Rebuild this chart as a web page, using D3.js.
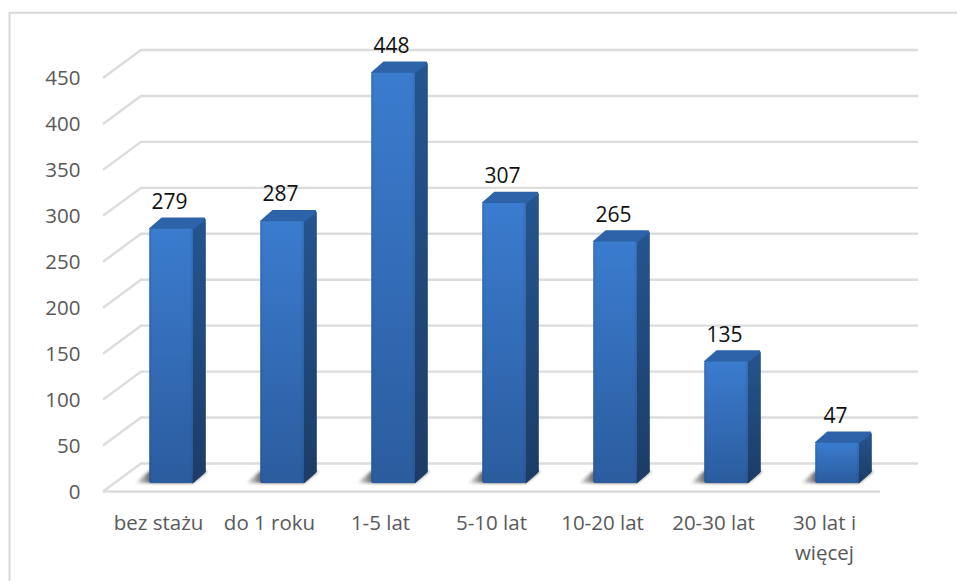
<!DOCTYPE html>
<html><head><meta charset="utf-8">
<script src="https://cdn.jsdelivr.net/npm/d3@7"></script>
<style>html,body{margin:0;background:#fff;overflow:hidden}svg{display:block}text{font-family:"Open Sans",sans-serif}</style>
</head><body><div id="c"></div>
<script>
const categories=["bez stażu","do 1 roku","1-5 lat","5-10 lat","10-20 lat","20-30 lat","30 lat i|więcej"];
const values=[279,287,448,307,265,135,47];
const ticks=[0,50,100,150,200,250,300,350,400,450];
const W=957,H=581;
const svg=d3.select("#c").append("svg").attr("width",W).attr("height",H);
const defs=svg.append("defs");
const gf=defs.append("linearGradient").attr("id","front").attr("x1",0).attr("y1",0).attr("x2",0).attr("y2",1);
gf.append("stop").attr("offset",0).attr("stop-color","#3b7ccf");
gf.append("stop").attr("offset",1).attr("stop-color","#2b5c9e");
const gh=defs.append("linearGradient").attr("id","frontH");
gh.append("stop").attr("offset",0).attr("stop-color","#1f4a80").attr("stop-opacity",.3);
gh.append("stop").attr("offset",.07).attr("stop-color","#1f4a80").attr("stop-opacity",0);
gh.append("stop").attr("offset",.93).attr("stop-color","#1f4a80").attr("stop-opacity",0);
gh.append("stop").attr("offset",1).attr("stop-color","#1f4a80").attr("stop-opacity",.3);
const gs=defs.append("linearGradient").attr("id","side").attr("x1",0).attr("y1",0).attr("x2",0).attr("y2",1);
gs.append("stop").attr("offset",0).attr("stop-color","#25558f");
gs.append("stop").attr("offset",1).attr("stop-color","#1c3c66");
const gsh=defs.append("linearGradient").attr("id","shadow");
gsh.append("stop").attr("offset",0).attr("stop-color","#222").attr("stop-opacity",.05);
gsh.append("stop").attr("offset",.2).attr("stop-color","#222").attr("stop-opacity",.8);
gsh.append("stop").attr("offset",.8).attr("stop-color","#222").attr("stop-opacity",.8);
gsh.append("stop").attr("offset",1).attr("stop-color","#222").attr("stop-opacity",.05);
defs.append("filter").attr("id","blur").attr("x","-20%").attr("y","-60%").attr("width","140%").attr("height","220%")
 .append("feGaussianBlur").attr("stdDeviation",1.6);

// frame: only the top and left edges are inside the picture
const frame=svg.append("g").attr("stroke","#d9d9d9").attr("fill","none");
frame.append("path").attr("stroke-width",2).attr("d",d3.line()([[9.5,H],[9.5,12.8],[W,12.8]]));

const dx=38,dy=-28;                // floor depth
const y=d3.scaleLinear().domain([0,450]).range([491.5,78]);
const x=d3.scaleBand().domain(categories).range([103,880]);
const barY=d3.scaleLinear().domain([0,450]).range([486,71]);
const barFloor=483;
const bx=d3.scaleBand().domain(categories).range([115.5,892.5]);
const bw=43.5, bdx=12.5, bdy=-11;

// gridlines
const grid=svg.append("g").attr("fill","none").attr("stroke","#dcdcdc").attr("stroke-width",2.4);
ticks.forEach(t=>{
  grid.append("path").attr("d",d3.line()([[x.range()[0],y(t)],[x.range()[0]+dx,y(t)+dy],[x.range()[1]+dx,y(t)+dy]]));
});
grid.append("line").attr("x1",x.range()[0]).attr("x2",x.range()[1]).attr("y1",y(0)).attr("y2",y(0));

// tick labels
svg.append("g").selectAll("text").data(ticks).join("text")
 .attr("x",80.5).attr("y",d=>y(d)).attr("dy","0.36em").attr("text-anchor","end")
 .attr("font-size",20.5).attr("fill","#595959").text(d=>d);

// bars
const bars=svg.append("g").selectAll("g").data(categories.map((c,i)=>({c,v:values[i]}))).join("g");
const cx=d=>bx(d.c)+bx.bandwidth()/2;
bars.append("path").attr("filter","url(#blur)").attr("fill","url(#shadow)")
 .attr("d",d=>{const l=cx(d)-bw/2,r=l+bw;return d3.line()([[l-14,barFloor],[r,barFloor],[r+bdx+2,barFloor+bdy-1],[r+bdx+18,barFloor+bdy-1],[r,barFloor-12],[l,barFloor-12]])+"Z";});
bars.append("path").attr("fill","url(#side)").attr("stroke","url(#side)").attr("stroke-linejoin","round")
 .attr("d",d=>{const r=cx(d)+bw/2,t=barY(d.v);return d3.line()([[r,t],[r+bdx-1,t+bdy],[r+bdx,t+bdy+2],[r+bdx,barFloor+bdy],[r,barFloor]])+"Z";});
bars.append("path").attr("fill","#2c63a9").attr("stroke","#2c63a9").attr("stroke-width",1.5).attr("stroke-linejoin","round")
 .attr("d",d=>{const l=cx(d)-bw/2,r=l+bw,t=barY(d.v);return d3.line()([[l+.5,t],[l+bdx,t+bdy+.5],[r+bdx-2,t+bdy+.5],[r+bdx-1,t+bdy+2],[r,t]])+"Z";});
bars.append("rect").attr("fill","url(#front)").attr("x",d=>cx(d)-bw/2).attr("width",bw)
 .attr("y",d=>barY(d.v)).attr("height",d=>barFloor-barY(d.v)).attr("rx",2);
bars.append("rect").attr("fill","url(#frontH)").attr("x",d=>cx(d)-bw/2).attr("width",bw)
 .attr("y",d=>barY(d.v)).attr("height",d=>barFloor-barY(d.v)).attr("rx",2);

// value labels
bars.append("text").attr("x",d=>cx(d)-1.5).attr("y",d=>barY(d.v)-20).attr("text-anchor","middle")
 .attr("font-size",21).attr("fill","#111").text(d=>d.v);

// category labels
svg.append("g").selectAll("text").data(categories).join("text")
 .attr("font-size",20.5).attr("fill","#595959").attr("text-anchor","middle")
 .each(function(c){
   const lines=c.split("|");
   d3.select(this).selectAll("tspan").data(lines).join("tspan")
     .attr("x",x(c)+x.bandwidth()/2).attr("y",(l,i)=>530+i*30).text(l=>l);
 });
</script></body></html>
